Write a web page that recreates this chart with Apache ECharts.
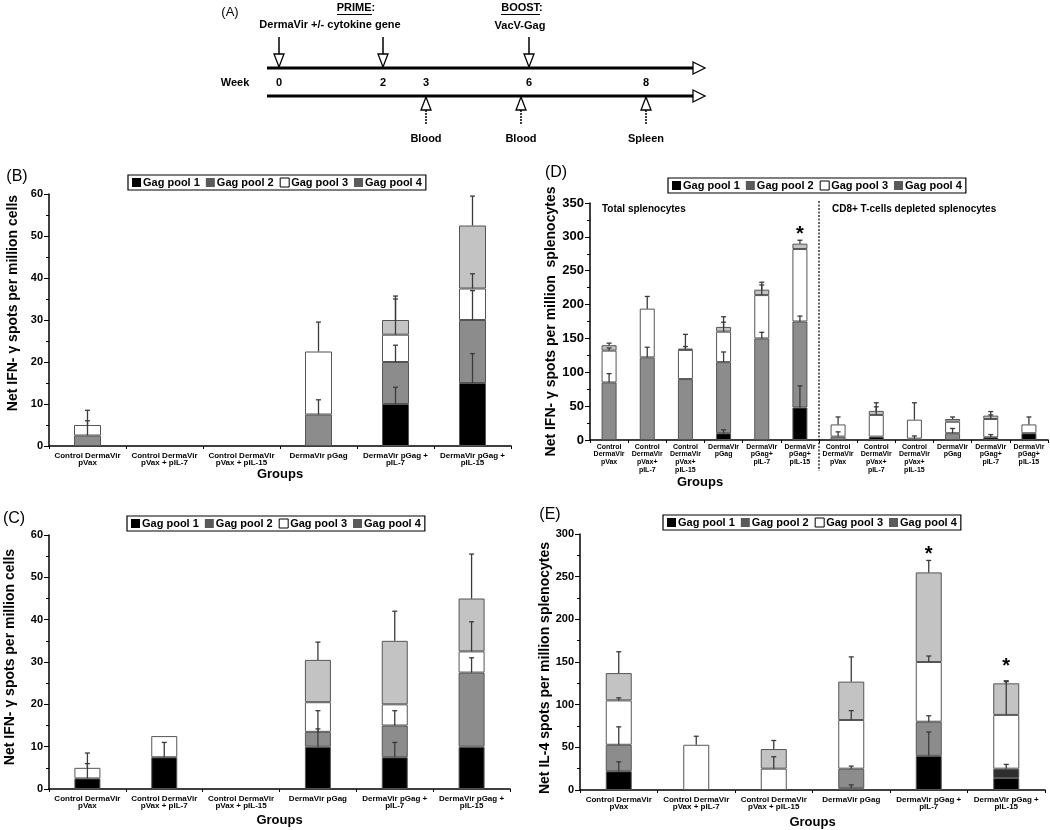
<!DOCTYPE html>
<html><head><meta charset="utf-8">
<script src="https://cdn.jsdelivr.net/npm/echarts@6/dist/echarts.min.js"></script>
<style>html,body{margin:0;padding:0;background:#fff}#c{width:1050px;height:830px}</style>
</head><body><div id="c"></div>
<script>
// ---------- data ----------
const poolNames = ['Gag pool 1', 'Gag pool 2', 'Gag pool 3', 'Gag pool 4'];
const groups6 = ['Control DermaVir\npVax', 'Control DermaVir\npVax + pIL-7', 'Control DermaVir\npVax + pIL-15',
  'DermaVir pGag', 'DermaVir pGag +\npIL-7', 'DermaVir pGag +\npIL-15'];
const groupsD = ['Control\nDermaVir\npVax', 'Control\nDermaVir\npVax+\npIL-7', 'Control\nDermaVir\npVax+\npIL-15',
  'DermaVir\npGag', 'DermaVir\npGag+\npIL-7', 'DermaVir\npGag+\npIL-15',
  'Control\nDermaVir\npVax', 'Control\nDermaVir\npVax+\npIL-7', 'Control\nDermaVir\npVax+\npIL-15',
  'DermaVir\npGag', 'DermaVir\npGag+\npIL-7', 'DermaVir\npGag+\npIL-15'];
const weekTicks = ['0', '2', '3', '6', '8'];

// Panel B (IFN-g, week 3 blood)
const B_pool1 = [0, 0, 0, 0, 10, 15];
const B_pool2 = [2.5, 0, 0, 7.5, 10, 15];
const B_pool3 = [2.5, 0, 0, 15, 6.5, 7.5];
const B_pool4 = [0, 0, 0, 0, 3.5, 15];
const B_err1 = [0, 0, 0, 0, 4, 7];
const B_err2 = [3.5, 0, 0, 3.5, 4, 7];
const B_err3 = [3.5, 0, 0, 7, 8.5, 3.5];
const B_err4 = [0, 0, 0, 0, 5.7, 7];

// Panel C (IFN-g, week 6 blood)
const C_pool1 = [2.5, 7.5, 0, 10, 7.5, 10];
const C_pool2 = [0, 0, 0, 3.5, 7.5, 17.5];
const C_pool3 = [2.5, 5, 0, 7, 5, 5];
const C_pool4 = [0, 0, 0, 10, 15, 12.5];
const C_err1 = [3.5, 3.5, 0, 4.2, 3.5, 0];
const C_err2 = [0, 0, 0, 5, 3.5, 3.5];
const C_err3 = [3.5, 0, 0, 0, 0, 7];
const C_err4 = [0, 0, 0, 4.2, 7, 10.5];

// Panel D (IFN-g, spleen, total / CD8-depleted)
const D_pool1 = [0, 0, 0, 10, 0, 48, 0, 5, 2, 0, 4, 10];
const D_pool2 = [85, 122, 90, 105, 150, 127, 5, 0, 0, 10, 0, 0];
const D_pool3 = [47, 72, 43, 45, 64, 107, 18, 32, 28, 17, 27, 13];
const D_pool4 = [8, 0, 2, 7, 8, 8, 0, 6, 0, 4, 5, 0];
const D_err1 = [0, 0, 0, 5, 0, 32, 0, 0, 4, 0, 4, 0];
const D_err2 = [13, 15, 0, 15, 9, 8, 7, 0, 0, 7, 0, 0];
const D_err3 = [4, 18, 5, 14, 15, 0, 11, 12, 25, 0, 6, 11];
const D_err4 = [3, 0, 21, 15, 11, 5, 0, 12, 0, 3, 6, 0];
const D_stars = [null, null, null, null, null, 309, null, null, null, null, null, null];

// Panel E (IL-4, spleen)
const E_pool1 = [22, 0, 0, 2, 40, 14];
const E_pool2 = [31, 0, 0, 23, 40, 11];
const E_pool3 = [52, 53, 25, 57, 70, 63];
const E_pool4 = [32, 0, 23, 45, 105, 37];
const E_err1 = [11, 0, 0, 4, 28, 0];
const E_err2 = [21, 0, 0, 3, 7, 5];
const E_err3 = [3, 10, 14, 11, 7, 39];
const E_err4 = [25, 0, 10, 29, 14, 3];
const E_stars = [null, null, null, null, 281, 149];

// ---------- styling / building ----------
const FONT = '"Liberation Sans", Arial, Helvetica, sans-serif';
const poolColors = ['#000000', '#8c8c8c', '#ffffff', '#c3c3c3'];
const legendColors = ['#000000', '#5a5a5a', '#ffffff', '#5a5a5a'];

function bars(idx, pools, barWidth, override) {
  return pools.map((vals, k) => ({
    type: 'bar', name: poolNames[k], xAxisIndex: idx, yAxisIndex: idx, stack: 'p' + idx,
    barWidth: barWidth,
    data: vals.map((v, i) => {
      if (!v) return '-';
      if (override && override.pool === k && override.index === i) return { value: v, itemStyle: override.style };
      return v;
    }),
    itemStyle: { color: poolColors[k], borderColor: '#555', borderWidth: 1 },
    emphasis: { disabled: true }, z: 2
  }));
}

function errors(idx, pools, errs, capW) {
  const data = [];
  const n = pools[0].length;
  for (let i = 0; i < n; i++) {
    let cum = 0;
    for (let k = 0; k < 4; k++) {
      cum += pools[k][i];
      if (pools[k][i] && errs[k][i]) data.push([i, cum, cum + errs[k][i]]);
    }
  }
  return {
    type: 'custom', xAxisIndex: idx, yAxisIndex: idx, data: data, z: 5, clip: false, silent: true,
    renderItem: function (params, api) {
      const p0 = api.coord([api.value(0), api.value(1)]);
      const p1 = api.coord([api.value(0), api.value(2)]);
      const st = { stroke: '#3a3a3a', lineWidth: 1.3 };
      return { type: 'group', children: [
        { type: 'line', shape: { x1: p0[0], y1: p0[1], x2: p1[0], y2: p1[1] }, style: st },
        { type: 'line', shape: { x1: p1[0] - capW / 2, y1: p1[1], x2: p1[0] + capW / 2, y2: p1[1] }, style: st }
      ] };
    }
  };
}

function stars(idx, vals) {
  const data = [];
  vals.forEach((v, i) => { if (v != null) data.push([i, v]); });
  return {
    type: 'custom', xAxisIndex: idx, yAxisIndex: idx, data: data, z: 6, clip: false, silent: true,
    renderItem: function (params, api) {
      const p = api.coord([api.value(0), api.value(1)]);
      return { type: 'text', x: p[0], y: p[1] + 4, style: { text: '*', font: 'bold 20px ' + FONT, fill: '#000',
        align: 'center', verticalAlign: 'middle', textAlign: 'center', textVerticalAlign: 'middle' } };
    }
  };
}

function yAxis(idx, max, interval, fs, name, nameGap, pad) {
  return {
    type: 'value', gridIndex: idx, min: 0, max: max, interval: interval,
    name: name, nameLocation: 'middle', nameGap: nameGap, nameMoveOverlap: false,
    nameTextStyle: { fontFamily: FONT, fontWeight: 'bold', fontSize: 14, color: '#000', padding: pad },
    axisLine: { show: true, lineStyle: { color: '#000', width: 1.5 } },
    axisTick: { show: true, length: 5, lineStyle: { color: '#000', width: 1 } },
    minorTick: { show: true, splitNumber: 2, length: 3, lineStyle: { color: '#000', width: 1 } },
    splitLine: { show: false }, minorSplitLine: { show: false },
    axisLabel: { fontFamily: FONT, fontWeight: 'bold', fontSize: fs, color: '#000', margin: 6 }
  };
}

function xAxis(idx, cats, fs, lh, margin, nameGap, pad) {
  return {
    type: 'category', gridIndex: idx, data: cats,
    name: 'Groups', nameLocation: 'middle', nameGap: nameGap, nameMoveOverlap: false,
    nameTextStyle: { fontFamily: FONT, fontWeight: 'bold', fontSize: 13, color: '#000', padding: pad, verticalAlign: 'top' },
    axisLine: { show: true, lineStyle: { color: '#000', width: 1.5 } },
    axisTick: { show: true, length: 3, lineStyle: { color: '#000', width: 1 } },
    splitLine: { show: false },
    axisLabel: { interval: 0, fontFamily: FONT, fontWeight: 'bold', fontSize: fs, lineHeight: lh, color: '#000', margin: margin }
  };
}

function legend(left, top) {
  return {
    left: left, top: top, orient: 'horizontal', itemWidth: 9, itemHeight: 9, itemGap: 6,
    padding: [2, 4], borderColor: '#000', borderWidth: 1.2, icon: 'rect', selectedMode: false,
    textStyle: { fontFamily: FONT, fontWeight: 'bold', fontSize: 11, color: '#000', padding: [0, 0, 0, -3] },
    data: poolNames.map((n, k) => ({ name: n, itemStyle: { color: legendColors[k], borderColor: '#000', borderWidth: k === 2 ? 1 : 0 } }))
  };
}

// ---------- panel A schematic ----------
const T = (text, x, y, size, weight, align) => ({
  type: 'text', x: x, y: y, silent: true,
  style: { text: text, font: (weight || 'bold') + ' ' + size + 'px ' + FONT, fill: '#000',
    align: align || 'center', verticalAlign: 'middle', textAlign: align || 'center', textVerticalAlign: 'middle' }
});
const L = (x1, y1, x2, y2, w, dash) => ({ type: 'line', silent: true, shape: { x1, y1, x2, y2 }, style: { stroke: '#000', lineWidth: w, lineDash: dash || null } });
const P = (pts) => ({ type: 'polygon', silent: true, shape: { points: pts }, style: { fill: '#fff', stroke: '#000', lineWidth: 1.3 } });
const down = (x) => [L(x, 37, x, 54, 1.5), P([[x - 5, 54], [x + 5, 54], [x, 67]])];
const up = (x) => [L(x, 110, x, 124, 1.5, [2, 1]), P([[x, 97], [x - 5, 110], [x + 5, 110]])];
const weekX = [279, 383, 426, 529, 646];

const graphicEls = [
  T('(A)', 230, 12, 13, 'normal'),
  T('PRIME:', 356, 8, 11, 'bold'), L(337, 14.5, 372, 14.5, 1),
  T('DermaVir +/- cytokine gene', 330, 25, 11, 'bold'),
  T('BOOST:', 522, 8, 11, 'bold'), L(501, 14.5, 540, 14.5, 1),
  T('VacV-Gag', 520, 26, 11, 'bold'),
  L(267, 68, 695, 68, 3), P([[693, 62], [705, 68], [693, 74]]),
  L(267, 96, 695, 96, 3), P([[693, 90], [705, 96], [693, 102]]),
  ...down(279), ...down(383), ...down(529),
  ...up(426), ...up(521), ...up(646),
  T('Week', 235, 83, 11, 'bold'),
  ...weekTicks.map((w, i) => T(w, weekX[i], 83, 11, 'bold')),
  T('Blood', 426, 139, 11, 'bold'), T('Blood', 521, 139, 11, 'bold'), T('Spleen', 646, 139, 11, 'bold'),
  T('(B)', 17, 177, 16, 'normal'),
  T('(C)', 14, 519, 16, 'normal'),
  T('(D)', 556, 173, 16, 'normal'),
  T('(E)', 550, 515, 16, 'normal'),
  T('Total splenocytes', 602, 209, 10, 'bold', 'left'),
  T('CD8+ T-cells depleted splenocytes', 832, 209, 10, 'bold', 'left')
];

// D separator between the two halves
const separator = {
  type: 'custom', xAxisIndex: 2, yAxisIndex: 2, data: [[5, 350]], z: 4, clip: false, silent: true,
  renderItem: function (params, api) {
    const a = api.coord([5, 350]);
    const b = api.coord([6, 0]);
    const x = (a[0] + b[0]) / 2;
    return { type: 'line', shape: { x1: x, y1: a[1] - 2, x2: x, y2: b[1] + 31 }, style: { stroke: '#000', lineWidth: 1.2, lineDash: [2, 1.5] } };
  }
};

const option = {
  animation: false,
  backgroundColor: '#fff',
  grid: [
    { left: 49, top: 194, right: 539, bottom: 384, outerBoundsMode: 'none' },
    { left: 49, top: 535, right: 540, bottom: 41, outerBoundsMode: 'none' },
    { left: 590, top: 203, right: 2, bottom: 390, outerBoundsMode: 'none' },
    { left: 580, top: 534, right: 5, bottom: 40, outerBoundsMode: 'none' }
  ],
  xAxis: [
    xAxis(0, groups6, 8, 7, 6, 22, null),
    xAxis(1, groups6, 8, 7, 6, 25, null),
    xAxis(2, groupsD, 7, 7.7, 3, 36, [0, 238, 0, 0]),
    xAxis(3, groups6, 8, 7, 6, 26, null)
  ],
  yAxis: [
    yAxis(0, 60, 10, 11, 'Net IFN- \u03b3 spots per million cells', 29, [0, 0, 0, 34]),
    yAxis(1, 60, 10, 11, 'Net IFN- \u03b3 spots per million cells', 32, [0, 0, 0, 10]),
    yAxis(2, 350, 50, 13, 'Net IFN- \u03b3 spots per million  splenocytes', 32, null),
    yAxis(3, 300, 50, 11, 'Net IL-4 spots per million splenocytes', 28, [0, 12, 0, 0])
  ],
  legend: [legend(128, 175), legend(127, 516), legend(668, 178), legend(663, 515)],
  graphic: { elements: graphicEls },
  series: [
    ...bars(0, [B_pool1, B_pool2, B_pool3, B_pool4], 27),
    errors(0, [B_pool1, B_pool2, B_pool3, B_pool4], [B_err1, B_err2, B_err3, B_err4], 5),
    ...bars(1, [C_pool1, C_pool2, C_pool3, C_pool4], 26),
    errors(1, [C_pool1, C_pool2, C_pool3, C_pool4], [C_err1, C_err2, C_err3, C_err4], 5),
    ...bars(2, [D_pool1, D_pool2, D_pool3, D_pool4], 15),
    errors(2, [D_pool1, D_pool2, D_pool3, D_pool4], [D_err1, D_err2, D_err3, D_err4], 5),
    stars(2, D_stars),
    separator,
    ...bars(3, [E_pool1, E_pool2, E_pool3, E_pool4], 26, { pool: 1, index: 5, style: { color: '#2e2e2e' } }),
    errors(3, [E_pool1, E_pool2, E_pool3, E_pool4], [E_err1, E_err2, E_err3, E_err4], 5),
    stars(3, E_stars)
  ]
};

const chart = echarts.init(document.getElementById('c'), null, { renderer: 'canvas' });
chart.setOption(option);
</script>
</body></html>
